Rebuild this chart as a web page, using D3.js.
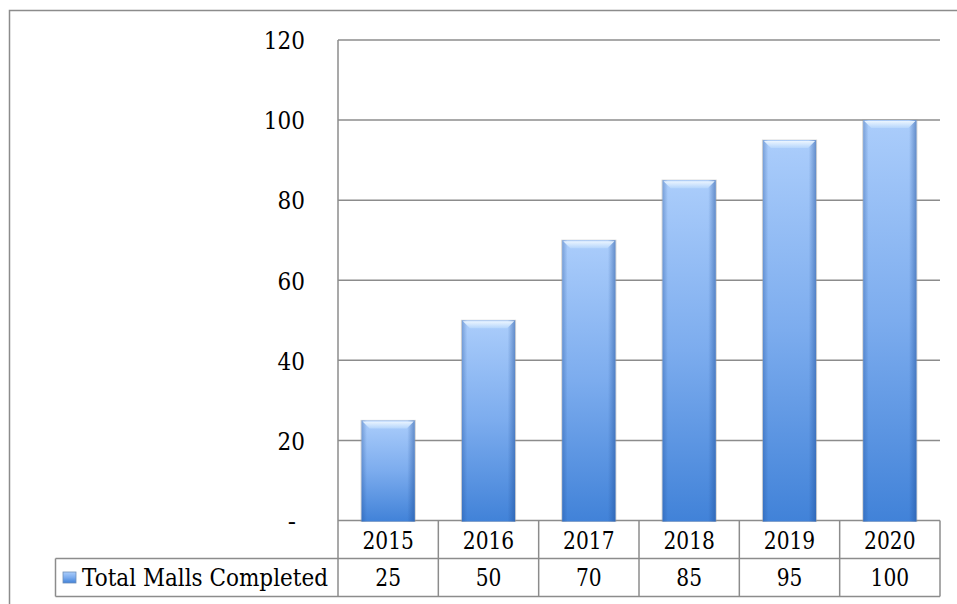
<!DOCTYPE html>
<html><head><meta charset="utf-8">
<script src="https://cdn.jsdelivr.net/npm/d3@7"></script>
<style>body{margin:0;background:#fff}svg{display:block}
svg text{font-family:"DejaVu Serif",serif;fill:#000}
</style>
</head><body>
<svg id="c" width="957" height="604"></svg>
<script>
const years = ["2015","2016","2017","2018","2019","2020"];
const malls = [25, 50, 70, 85, 95, 100];
const seriesName = "Total Malls Completed";
const yTicks = [0, 20, 40, 60, 80, 100, 120];
const yTickLabels = ["-", "20", "40", "60", "80", "100", "120"];

const svg = d3.select("#c");
const L = 338, R = 940, T = 40, B = 520.5;
const row1B = 558.5, row2B = 596.5, legL = 55.5;
const grid = "#8c8c8c";

function condense(sel, f) {
  sel.each(function() {
    const len = this.getComputedTextLength();
    d3.select(this).attr("textLength", len * f).attr("lengthAdjust", "spacingAndGlyphs");
  });
}

const defs = svg.append("defs");
const gv = defs.append("linearGradient").attr("id","gv").attr("x1",0).attr("y1",0).attr("x2",0).attr("y2",1);
gv.append("stop").attr("offset","0%").attr("stop-color","#abcdfb");
gv.append("stop").attr("offset","50%").attr("stop-color","#7cacee");
gv.append("stop").attr("offset","100%").attr("stop-color","#4182d8");
const gh = defs.append("linearGradient").attr("id","gh").attr("x1",0).attr("y1",0).attr("x2",1).attr("y2",0);
gh.append("stop").attr("offset","0%").attr("stop-color","#1f4f99").attr("stop-opacity",0.35);
gh.append("stop").attr("offset","10%").attr("stop-color","#1f4f99").attr("stop-opacity",0.0);
gh.append("stop").attr("offset","86%").attr("stop-color","#1f4f99").attr("stop-opacity",0.0);
gh.append("stop").attr("offset","100%").attr("stop-color","#1f4f99").attr("stop-opacity",0.5);
const gt = defs.append("linearGradient").attr("id","gt").attr("x1",0).attr("y1",0).attr("x2",0).attr("y2",1);
gt.append("stop").attr("offset","0%").attr("stop-color","#eef7ff");
gt.append("stop").attr("offset","100%").attr("stop-color","#b6d6fc");

svg.append("rect").attr("x",9.5).attr("y",10.5).attr("width",960).attr("height",620)
  .attr("fill","none").attr("stroke","#8c8c8c").attr("stroke-width",1.5);

const x = d3.scaleBand().domain(years).range([L, R]).paddingInner(0).paddingOuter(0);
const y = d3.scaleLinear().domain([0,120]).range([B, T]);

svg.append("g").selectAll("line").data(yTicks).join("line")
  .attr("x1",L).attr("x2",R).attr("y1",d=>y(d)).attr("y2",d=>y(d))
  .attr("stroke",grid).attr("stroke-width",1.5);

const yAxis = d3.axisLeft(y).tickValues(yTicks).tickSize(0).tickPadding(0)
  .tickFormat((d,i)=>yTickLabels[i]);
const ya = svg.append("g").attr("transform",`translate(305,0)`).call(yAxis)
  .attr("font-family",null).attr("font-size",null);
ya.select(".domain").remove();
ya.selectAll("text").style("font-size","24.5px").attr("dy","0.36em");
ya.selectAll("text").filter((d,i)=>i===0).attr("x",-9);
condense(ya.selectAll("text").filter((d,i)=>i>0), 0.88);

const bw = x.bandwidth()*0.53;
const bars = svg.append("g").selectAll("g").data(malls).join("g")
  .attr("transform",(d,i)=>`translate(${x(years[i]) + (x.bandwidth()-bw)/2},${y(d)})`);
bars.append("rect").attr("x",-1).attr("y",-0.5).attr("width",bw+2).attr("height",d=>B-y(d)+2)
  .attr("fill","#9a9a9a").attr("opacity",0.45);
bars.append("rect").attr("width",bw).attr("height",d=>B-y(d)+1).attr("fill","url(#gv)");
bars.append("rect").attr("width",bw).attr("height",d=>B-y(d)+1).attr("fill","url(#gh)");
bars.append("path").attr("d",`M1,1 L${bw-1},1 L${bw-8},8 L8,8 Z`).attr("fill","url(#gt)").attr("opacity",0.95);

const tbl = svg.append("g").attr("stroke",grid).attr("stroke-width",1.5);
tbl.append("line").attr("x1",L).attr("x2",L).attr("y1",T).attr("y2",row2B);
tbl.append("line").attr("x1",legL).attr("x2",R).attr("y1",row1B).attr("y2",row1B);
tbl.append("line").attr("x1",legL).attr("x2",R).attr("y1",row2B).attr("y2",row2B);
tbl.append("line").attr("x1",legL).attr("x2",legL).attr("y1",row1B).attr("y2",row2B);
tbl.selectAll("line.c").data(years).join("line").attr("class","c")
  .attr("x1",d=>x(d)+x.bandwidth()).attr("x2",d=>x(d)+x.bandwidth()).attr("y1",B).attr("y2",row2B);

const yrT = svg.append("g").selectAll("text").data(years).join("text")
  .attr("x",d=>x(d)+x.bandwidth()/2).attr("y",(B+row1B)/2 + 1).attr("dy","0.36em")
  .attr("text-anchor","middle").style("font-size","23.5px").text(d=>d);
condense(yrT, 0.86);
const valT = svg.append("g").selectAll("text").data(malls).join("text")
  .attr("x",(d,i)=>x(years[i])+x.bandwidth()/2).attr("y",(row1B+row2B)/2 + 0.5).attr("dy","0.36em")
  .attr("text-anchor","middle").style("font-size","23.5px").text(d=>d);
condense(valT, 0.86);

svg.append("rect").attr("x",63).attr("y",572).attr("width",13).attr("height",11).attr("fill","url(#gv)")
  .attr("stroke","#6f8fb8").attr("stroke-width",0.8);
const legT = svg.append("text").attr("x",82).attr("y",(row1B+row2B)/2 + 0.5).attr("dy","0.36em")
  .style("font-size","23.5px").text(seriesName);
legT.attr("textLength", 246).attr("lengthAdjust","spacingAndGlyphs");
</script>
</body></html>
